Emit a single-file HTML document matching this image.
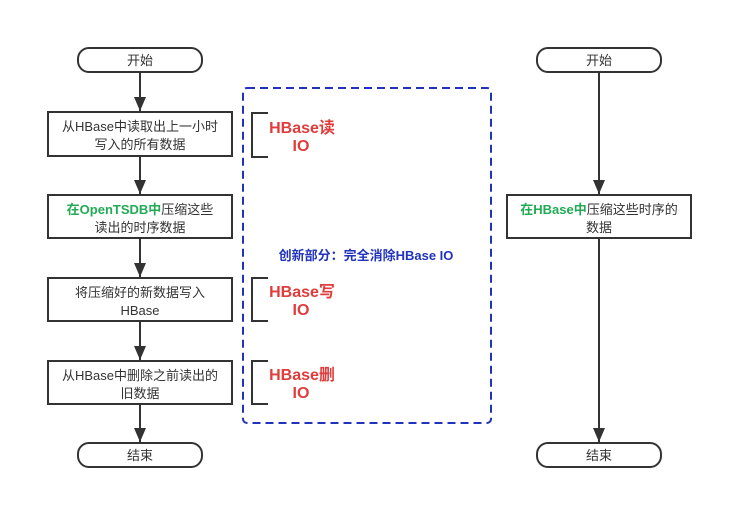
<!DOCTYPE html>
<html><head><meta charset="utf-8"><style>
html,body{margin:0;padding:0;background:#fff;}
svg{display:block;}
text{font-family:"Liberation Sans","Noto Sans CJK SC",sans-serif;}
</style></head><body>
<svg width="753" height="530" viewBox="0 0 753 530" xmlns="http://www.w3.org/2000/svg">
<defs><marker id="a" markerWidth="14" markerHeight="12" refX="14" refY="6" orient="auto" markerUnits="userSpaceOnUse"><path d="M0,0 L14,6 L0,12 Z" fill="#333"/></marker></defs>
<rect width="753" height="530" fill="#fff"/>
<g stroke="#333" stroke-width="2" fill="#fff">
<rect x="78" y="48" width="124" height="24" rx="11"/>
<rect x="48" y="112" width="184" height="44"/>
<rect x="48" y="195" width="184" height="43"/>
<rect x="48" y="278" width="184" height="43"/>
<rect x="48" y="361" width="184" height="43"/>
<rect x="78" y="443" width="124" height="24" rx="11"/>
<rect x="537" y="48" width="124" height="24" rx="11"/>
<rect x="507" y="195" width="184" height="43"/>
<rect x="537" y="443" width="124" height="24" rx="11"/>
</g>
<g stroke="#333" stroke-width="2" marker-end="url(#a)">
<line x1="140" y1="72" x2="140" y2="111"/>
<line x1="140" y1="156" x2="140" y2="194"/>
<line x1="140" y1="238" x2="140" y2="277"/>
<line x1="140" y1="321" x2="140" y2="360"/>
<line x1="140" y1="404" x2="140" y2="442"/>
<line x1="599" y1="72" x2="599" y2="194"/>
<line x1="599" y1="238" x2="599" y2="442"/>
</g>
<rect x="243" y="88" width="248" height="335" rx="4" fill="none" stroke="#2233bb" stroke-width="2" stroke-dasharray="8,5"/>
<g fill="none" stroke="#333" stroke-width="2">
<path d="M268,113 H252 V157 H268"/>
<path d="M268,278 H252 V321 H268"/>
<path d="M268,361 H252 V404 H268"/>
</g>
<g font-size="13" fill="#333" text-anchor="middle">
<text x="140" y="65">开始</text>
<text x="140" y="131">从HBase中读取出上一小时</text>
<text x="140" y="149">写入的所有数据</text>
<text x="140" y="214"><tspan fill="#22aa55" font-weight="bold">在OpenTSDB中</tspan>压缩这些</text>
<text x="140" y="232">读出的时序数据</text>
<text x="140" y="297">将压缩好的新数据写入</text>
<text x="140" y="315">HBase</text>
<text x="140" y="380">从HBase中删除之前读出的</text>
<text x="140" y="398">旧数据</text>
<text x="140" y="460">结束</text>
<text x="599" y="65">开始</text>
<text x="599" y="214"><tspan fill="#22aa55" font-weight="bold">在HBase中</tspan>压缩这些时序的</text>
<text x="599" y="232">数据</text>
<text x="599" y="460">结束</text>
</g>
<g font-size="16" font-weight="bold" fill="#e03c3c" text-anchor="middle">
<text x="302" y="133">HBase读</text><text x="301" y="151">IO</text>
<text x="302" y="297">HBase写</text><text x="301" y="315">IO</text>
<text x="302" y="380">HBase删</text><text x="301" y="398">IO</text>
</g>
<text x="366" y="260" font-size="13" font-weight="bold" fill="#2233bb" text-anchor="middle">创新部分：完全消除HBase IO</text>
</svg>
</body></html>
